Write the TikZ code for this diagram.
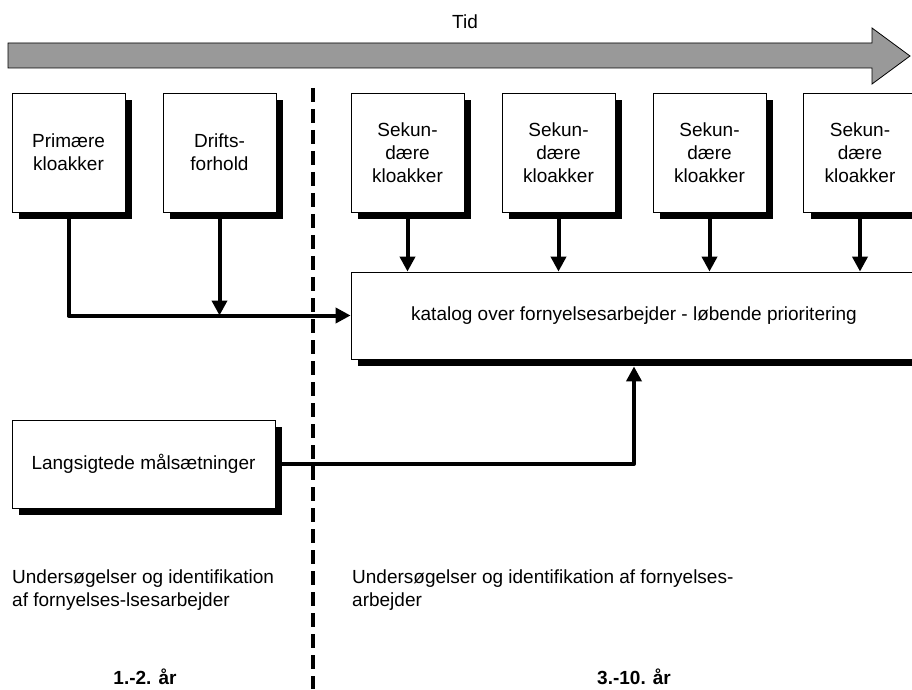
\documentclass[tikz,border=0pt]{standalone}
\usepackage{fontspec}
\setmainfont{Liberation Sans}
\usetikzlibrary{arrows.meta}
\usetikzlibrary{shadows}

\begin{document}
\begin{tikzpicture}[x=1pt,y=1pt]
			\def\bw{113}
			\def\bh{119}
			\tikzset{boks/.style={draw,fill=white,line width=0.8pt,align=center,inner sep=0pt,minimum width=\bw pt,minimum height=\bh pt,drop shadow={shadow xshift=7pt,shadow yshift=-7pt,fill=black,opacity=1}},
				pil/.style={line width=4pt,line join=round,-{Triangle[length=15pt,width=15pt]}},
				every node/.append style={font=\fontsize{19}{23}\selectfont}}
			\useasboundingbox (0,0) rectangle (912,689);
			% tidslinje
			\draw[fill=black!40,line width=0.8pt] (8,621) -- (872,621) -- (872,605) -- (910,633) -- (872,661) -- (872,646) -- (8,646) -- cycle;
			\node (tid) at (465,667) {Tid};
			\draw[line width=4pt,dash pattern=on 14pt off 7pt] (313,601) -- (313,0);
			% kasser
			\node[boks] (prim) at (68.5,536.5) {Primære\\kloakker};
			\node[boks] (drift) at (219.5,536.5) {Drifts-\\forhold};
			\foreach\i/\x in {1/407.5,2/558.5,3/709.5,4/860}{
				\node[boks] (sek\i) at (\x,536.5) {Sekun-\\dære\\kloakker};
			}
			\node[boks,minimum width=566pt,minimum height=87pt] (kat) at (634,373.5) {katalog over fornyelsesarbejder - løbende prioritering};
			\node[boks,minimum width=263pt,minimum height=88pt] (lang) at (143.5,225) {Langsigtede målsætninger};
			% pile
			\draw[pil] (prim.south) |- (kat.west);
			\draw[pil] (drift.south) -- (drift.south |- kat.west);
			\foreach\i in {1,...,4}{
				\draw[pil] (sek\i.south) -- (sek\i.south |- kat.north);
			}
			\draw[pil] (lang.east) -| ([yshift=-7pt]kat.south);
			% tekster
			\node[anchor=north west,align=left,inner sep=0pt] (us1) at (12,119) {Undersøgelser og identifikation\\af fornyelses-lsesarbejder};
			\node[anchor=north west,align=left,inner sep=0pt] (us2) at (352,119) {Undersøgelser og identifikation af fornyelses-\\arbejder};
			\node[font=\fontsize{19}{23}\selectfont\bfseries] (aar1) at (145,12) {1.-2. år};
			\node[font=\fontsize{19}{23}\selectfont\bfseries] (aar2) at (634,12) {3.-10. år};
		\end{tikzpicture}
\end{document}
